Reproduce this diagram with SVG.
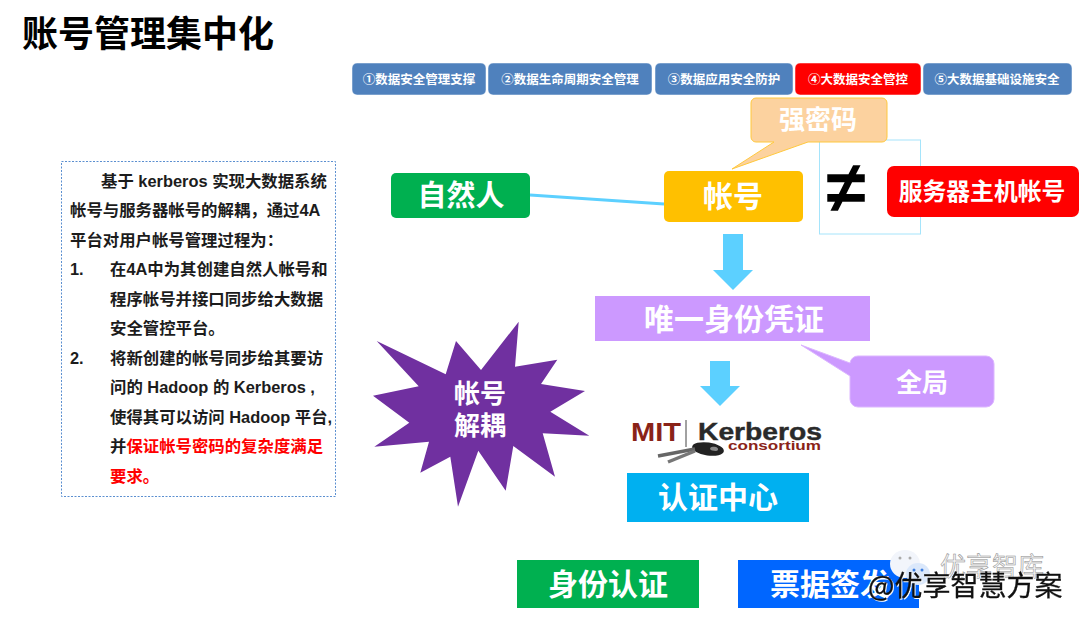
<svg xmlns="http://www.w3.org/2000/svg" width="1080" height="617" viewBox="0 0 1080 617">
<style>
text{font-family:"Liberation Sans","Noto Sans CJK SC",sans-serif}
.nav{fill:#4f81bd;stroke:#fff;stroke-width:.5}
.navt{fill:#fff;font-size:12.5px;font-weight:bold;text-anchor:middle}
.lab{fill:#fff;font-weight:bold;text-anchor:middle}
.body{font-size:16.4px;font-weight:bold;fill:#1c1c1c}
.red{fill:#f00}
.arrow{fill:#5cd0ff}
.mark{font-family:"Noto Sans CJK SC",sans-serif}
</style>
<rect width="1080" height="617" fill="#fff"/>
<text x="22" y="47" font-size="36" font-weight="bold" fill="#000">账号管理集中化</text>
<g id="nav">
<g id="nav1"><rect class="nav" x="352" y="63" width="134" height="32" rx="5"/><text class="navt" x="419" y="84">①数据安全管理支撑</text></g>
<g id="nav2"><rect class="nav" x="488" y="63" width="164" height="32" rx="5"/><text class="navt" x="570" y="84">②数据生命周期安全管理</text></g>
<g id="nav3"><rect class="nav" x="655" y="63" width="138" height="32" rx="5"/><text class="navt" x="724" y="84">③数据应用安全防护</text></g>
<g id="nav4"><rect class="nav" style="fill:#f00" x="795" y="63" width="126" height="32" rx="5"/><text class="navt" x="858" y="84">④大数据安全管控</text></g>
<g id="nav5"><rect class="nav" x="923" y="63" width="149" height="32" rx="5"/><text class="navt" x="997" y="84">⑤大数据基础设施安全</text></g>
</g>
<g id="desc">
<rect x="61.500" y="161.500" width="274" height="335" fill="#fff" stroke="#5b8fd0" stroke-width="1" stroke-dasharray="2 1.500"/>
<text class="body" x="101" y="187">基于 kerberos 实现大数据系统</text>
<text class="body" x="70" y="216">帐号与服务器帐号的解耦，通过4A</text>
<text class="body" x="70" y="246">平台对用户帐号管理过程为：</text>
<text class="body" x="70" y="275">1.</text>
<text class="body" x="110" y="275">在4A中为其创建自然人帐号和</text>
<text class="body" x="110" y="305">程序帐号并接口同步给大数据</text>
<text class="body" x="110" y="334">安全管控平台。</text>
<text class="body" x="70" y="364">2.</text>
<text class="body" x="110" y="364">将新创建的帐号同步给其要访</text>
<text class="body" x="110" y="393">问的 Hadoop 的 Kerberos ,</text>
<text class="body" x="110" y="423">使得其可以访问 Hadoop 平台,</text>
<text class="body" x="110" y="452">并<tspan class="red">保证帐号密码的复杂度满足</tspan></text>
<text class="body red" x="110" y="482">要求。</text>
</g>
<g id="connectors">
<line x1="530" y1="195" x2="664" y2="204" stroke="#5cd0ff" stroke-width="3"/>
<polygon class="arrow" points="723,234 743,234 743,270 753,270 733,290 713,270 723,270"/>
<polygon class="arrow" points="710,361 730,361 730,386 740,386 720,406 700,386 710,386"/>
</g>
<g id="burst">
<polygon points="376.700,341 445.700,374.300 456,341 481,370 518.700,321.700 515,366.700 557.300,359.700 541,384 585,391 550.300,411.700 589.300,435.700 542.700,433.300 555,476.700 513.300,446 505.700,490.700 478.300,450.700 458,506.700 450.300,456.700 420.300,472.700 429,441.700 374.300,446.700 409.300,422.700 373,395.700 418.700,386.300" fill="#7030a0"/>
<text class="lab" x="480" y="403" font-size="26">帐号</text>
<text class="lab" x="480" y="435" font-size="26">解耦</text>
</g>
<g id="natural"><rect x="391" y="173" width="139" height="45" rx="5" fill="#00b050"/><text class="lab" x="461" y="206" font-size="29">自然人</text></g>
<g id="account"><rect x="664" y="171" width="139" height="51" rx="5" fill="#ffc000"/><text class="lab" x="733" y="207" font-size="30">帐号</text></g>
<g id="neq"><rect x="819.500" y="140" width="101" height="94" fill="#fff" stroke="#a5e4fb" stroke-width="1"/><text x="846" y="212" font-size="72" font-weight="bold" text-anchor="middle" fill="#000">≠</text></g>
<g id="strong"><path d="M756 98H882a5 5 0 0 1 5 5V137a5 5 0 0 1-5 5H808L732 169L774 142H756a5 5 0 0 1-5-5V103a5 5 0 0 1 5-5Z" fill="#fcd29f" stroke="#ffc83d" stroke-width="1"/><text class="lab" x="818" y="129" font-size="26">强密码</text></g>
<g id="server"><rect x="887" y="166" width="192" height="51" rx="7" fill="#f00"/><text class="lab" x="982" y="200" font-size="23.800">服务器主机帐号</text></g>
<g id="identity"><rect x="595" y="296" width="275" height="45" fill="#cc99ff"/><text class="lab" x="734" y="330" font-size="30">唯一身份凭证</text></g>
<g id="global"><path d="M858 356H986a8 8 0 0 1 8 8V399a8 8 0 0 1-8 8H858a8 8 0 0 1-8-8V376L801 345L850 363A8 8 0 0 1 858 356Z" fill="#cc99ff" stroke="#dcb6ff" stroke-width="1"/><text class="lab" x="922" y="392" font-size="26">全局</text></g>
<g id="logo">
<text x="631" y="441" font-size="25" font-weight="bold" fill="#8a2318" textLength="50" lengthAdjust="spacingAndGlyphs">MIT</text>
<line x1="686" y1="420" x2="686" y2="447" stroke="#444" stroke-width="1"/>
<text x="698" y="440" font-size="23" font-weight="bold" fill="#2a2a2a" stroke="#2a2a2a" stroke-width=".4" textLength="124" lengthAdjust="spacingAndGlyphs">Kerberos</text>
<text x="728" y="450" font-size="12" font-weight="bold" fill="#8a2318" textLength="93" lengthAdjust="spacingAndGlyphs">consortium</text>
<g transform="rotate(8 708 449)"><ellipse cx="708" cy="449" rx="16" ry="6.500" fill="#222"/><ellipse cx="714" cy="448" rx="4" ry="2" fill="#888"/></g>
<path d="M695 449L658 456" stroke="#666" stroke-width="3.500"/>
<path d="M695 451L668 462" stroke="#777" stroke-width="3.500"/>
</g>
<g id="auth"><rect x="627" y="473" width="182" height="49" fill="#00b0f0"/><text class="lab" x="718" y="508" font-size="30">认证中心</text></g>
<g id="idauth"><rect x="517" y="560" width="182" height="48" fill="#00b050"/><text class="lab" x="608" y="595" font-size="30">身份认证</text></g>
<g id="ticket"><rect x="738" y="560" width="181" height="48" fill="#0066ff"/><text class="lab" x="830" y="595" font-size="30">票据签发</text></g>
<g id="watermark">
<ellipse cx="905" cy="564" rx="15" ry="14" fill="#f2f5fb"/>
<ellipse cx="918" cy="574" rx="12" ry="11" fill="#dbe8fb"/>
<circle cx="900" cy="558" r="1.500" fill="#aaa"/><circle cx="910" cy="558" r="1.500" fill="#aaa"/>
<circle cx="914" cy="570" r="1.500" fill="#3b7de0"/><circle cx="922" cy="570" r="1.500" fill="#3b7de0"/>
<text class="mark" x="940" y="576" font-size="26" fill="#f4f4f4" stroke="#8c8c8c" stroke-width=".5">优享智库</text>
<text class="mark" x="868" y="596" font-size="28" fill="#111" stroke="#111" stroke-width=".3" style="filter:drop-shadow(1px 1px 0 #fff)">@优享智慧方案</text>
</g>
</svg>
